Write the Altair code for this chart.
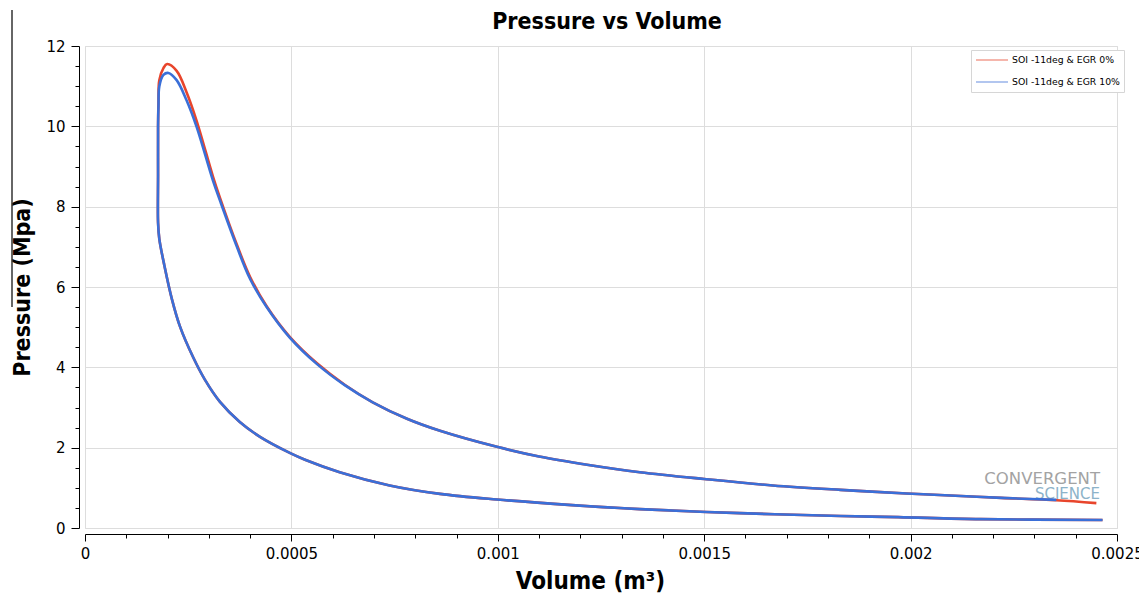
import altair as alt
import pandas as pd

# ---- data (Volume m^3, Pressure MPa) ----
series_names = ["SOI -11deg & EGR 0%", "SOI -11deg & EGR 10%"]

# compression branch (both cases overlap)
lower_v = [0.002465, 0.00217, 0.00197, 0.00183, 0.001586, 0.001344, 0.00118,
           0.000998, 0.00086, 0.000738, 0.000617, 0.000533, 0.000496, 0.000424,
           0.000375, 0.000327, 0.00029, 0.000262, 0.00023, 0.000211, 0.000192,
           0.00018]
lower_p = [0.20, 0.22, 0.27, 0.30, 0.37, 0.47, 0.57,
           0.71, 0.85, 1.06, 1.39, 1.70, 1.87, 2.27,
           2.64, 3.14, 3.70, 4.25, 5.02, 5.68, 6.55,
           7.20]

# combustion + expansion branch, EGR 0%
red_up_v = [0.000177, 0.000177, 0.000177, 0.000178, 0.00018, 0.00019, 0.000199,
            0.000222, 0.000246, 0.00027, 0.00031, 0.000327, 0.000368, 0.0004,
            0.00044, 0.000496, 0.000562, 0.00063, 0.000697, 0.00078, 0.00086,
            0.000998, 0.0011, 0.00122, 0.001344, 0.0015, 0.001666, 0.00183,
            0.00199, 0.00207, 0.00222, 0.002353, 0.00245]
red_up_p = [7.6, 8.8, 10.0, 10.6, 11.15, 11.45, 11.55,
            11.38, 10.85, 10.15, 8.75, 8.22, 7.05, 6.25,
            5.52, 4.76, 4.1, 3.56, 3.13, 2.72, 2.42,
            2.02, 1.78, 1.57, 1.39, 1.22, 1.06, 0.95,
            0.86, 0.82, 0.75, 0.69, 0.62]

# combustion + expansion branch, EGR 10%
blue_up_v = [0.000177, 0.000177, 0.000177, 0.000178, 0.00018, 0.00019, 0.000202,
             0.000222, 0.000246, 0.00027, 0.00031, 0.000327, 0.000368, 0.0004,
             0.00044, 0.000496, 0.000562, 0.00063, 0.000697, 0.00078, 0.00086,
             0.000998, 0.0011, 0.00122, 0.001344, 0.0015, 0.001666, 0.00183,
             0.00199, 0.00207, 0.00222, 0.002353]
blue_up_p = [7.6, 8.8, 10.0, 10.5, 10.99, 11.28, 11.33,
             11.15, 10.65, 10.0, 8.65, 8.15, 7.0, 6.2,
             5.5, 4.74, 4.08, 3.55, 3.13, 2.72, 2.42,
             2.02, 1.78, 1.57, 1.39, 1.22, 1.06, 0.95,
             0.86, 0.82, 0.75, 0.70]

colors = ["#e8452c", "#3a6fd8"]

rows = []
for name, up_v, up_p in [(series_names[0], red_up_v, red_up_p),
                         (series_names[1], blue_up_v, blue_up_p)]:
    i = 0
    for v, p in zip(lower_v + up_v, lower_p + up_p):
        rows.append({"series": name, "V": v, "P": p, "i": i})
        i += 1
df = pd.DataFrame(rows)

TITLE_FONT = "Liberation Sans Narrow, DejaVu Sans Condensed, Liberation Sans, sans-serif"
LABEL_FONT = "DejaVu Sans, Verdana, sans-serif"

x_major = "round(datum.value*10000) % 5 === 0"
y_major = "round(datum.value*2) % 4 === 0"

x_axis = alt.Axis(
    values=[k * 0.0001 for k in range(26)],
    labelExpr=f"{x_major} ? format(datum.value, '~g') : ''",
    labelOverlap=False, labelFlush=False,
    tickSize={"condition": {"test": x_major, "value": 7}, "value": 4},
    gridOpacity={"condition": {"test": x_major, "value": 1}, "value": 0},
    offset=6, domainColor="#000000", tickColor="#000000",
    labelColor="#000000", labelFont=LABEL_FONT, labelFontSize=15, labelPadding=5,
    title="Volume (m³)", titleFont=TITLE_FONT, titleFontSize=24,
    titleFontWeight="bold", titleColor="#000000", titlePadding=8, titleX=505,
)
y_axis = alt.Axis(
    values=[k * 0.5 for k in range(25)],
    labelExpr=f"{y_major} ? format(datum.value, '~g') : ''",
    labelOverlap=False, labelFlush=False,
    tickSize={"condition": {"test": y_major, "value": 8}, "value": 4},
    gridOpacity={"condition": {"test": y_major, "value": 1}, "value": 0},
    offset=6, domainColor="#000000", tickColor="#000000",
    labelColor="#000000", labelFont=LABEL_FONT, labelFontSize=15, labelPadding=6,
    title="Pressure (Mpa)", titleFont=TITLE_FONT, titleFontSize=23,
    titleFontWeight="bold", titleColor="#000000", titlePadding=11,
)

lines = alt.Chart(df).mark_line(strokeWidth=2.6, interpolate="catmull-rom").encode(
    x=alt.X("V:Q", scale=alt.Scale(domain=[0, 0.0025], nice=False, zero=False), axis=x_axis),
    y=alt.Y("P:Q", scale=alt.Scale(domain=[0, 12], nice=False), axis=y_axis),
    color=alt.Color("series:N",
                    scale=alt.Scale(domain=series_names, range=colors),
                    legend=alt.Legend(
                        title=None, orient="none", legendX=886, legendY=4,
                        strokeColor="#d6d6d6", padding=4, fillColor="#ffffff",
                        symbolType="M-1,0H5.4", symbolSize=100, symbolStrokeWidth=1.3,
                        symbolOpacity=0.6, labelFont=LABEL_FONT, labelFontSize=9.3,
                        labelColor="#000000", rowPadding=10, labelOffset=25)),
    order=alt.Order("i:Q"),
    detail="series:N",
)

one = alt.Data(values=[{}])
wm1 = alt.Chart(one).mark_text(text="CONVERGENT", font=LABEL_FONT, fontSize=16.5,
                               color="#a3a3a3", align="right", baseline="alphabetic").encode(
    x=alt.value(1015), y=alt.value(438))
wm2 = alt.Chart(one).mark_text(text="SCIENCE", font=LABEL_FONT, fontSize=15,
                               color="#8db3c9", align="right", baseline="alphabetic").encode(
    x=alt.value(1015), y=alt.value(453))
edge = alt.Chart(one).mark_rule(color="#333333", strokeWidth=1.5).encode(
    x=alt.value(-73), y=alt.value(-36), y2=alt.value(261))
title = alt.Chart(one).mark_text(text="Pressure vs Volume", font=TITLE_FONT, fontSize=23,
                                 fontWeight="bold", color="#000000", align="center",
                                 baseline="alphabetic").encode(
    x=alt.value(522), y=alt.value(-17))

chart = alt.layer(wm1, wm2, lines, edge, title).properties(
    width=1032, height=482,
    autosize=alt.AutoSizeParams(type="none"),
    padding={"left": 77, "top": 38, "right": 22, "bottom": 67},
).configure_view(stroke=None).configure_axis(
    gridColor="#ebebeb", gridDash=[2, 2], gridWidth=1, domainWidth=1.3, tickWidth=1.2
).configure(background="#ffffff")

chart.save("out.html", embed_options={"renderer": "svg", "actions": False})
